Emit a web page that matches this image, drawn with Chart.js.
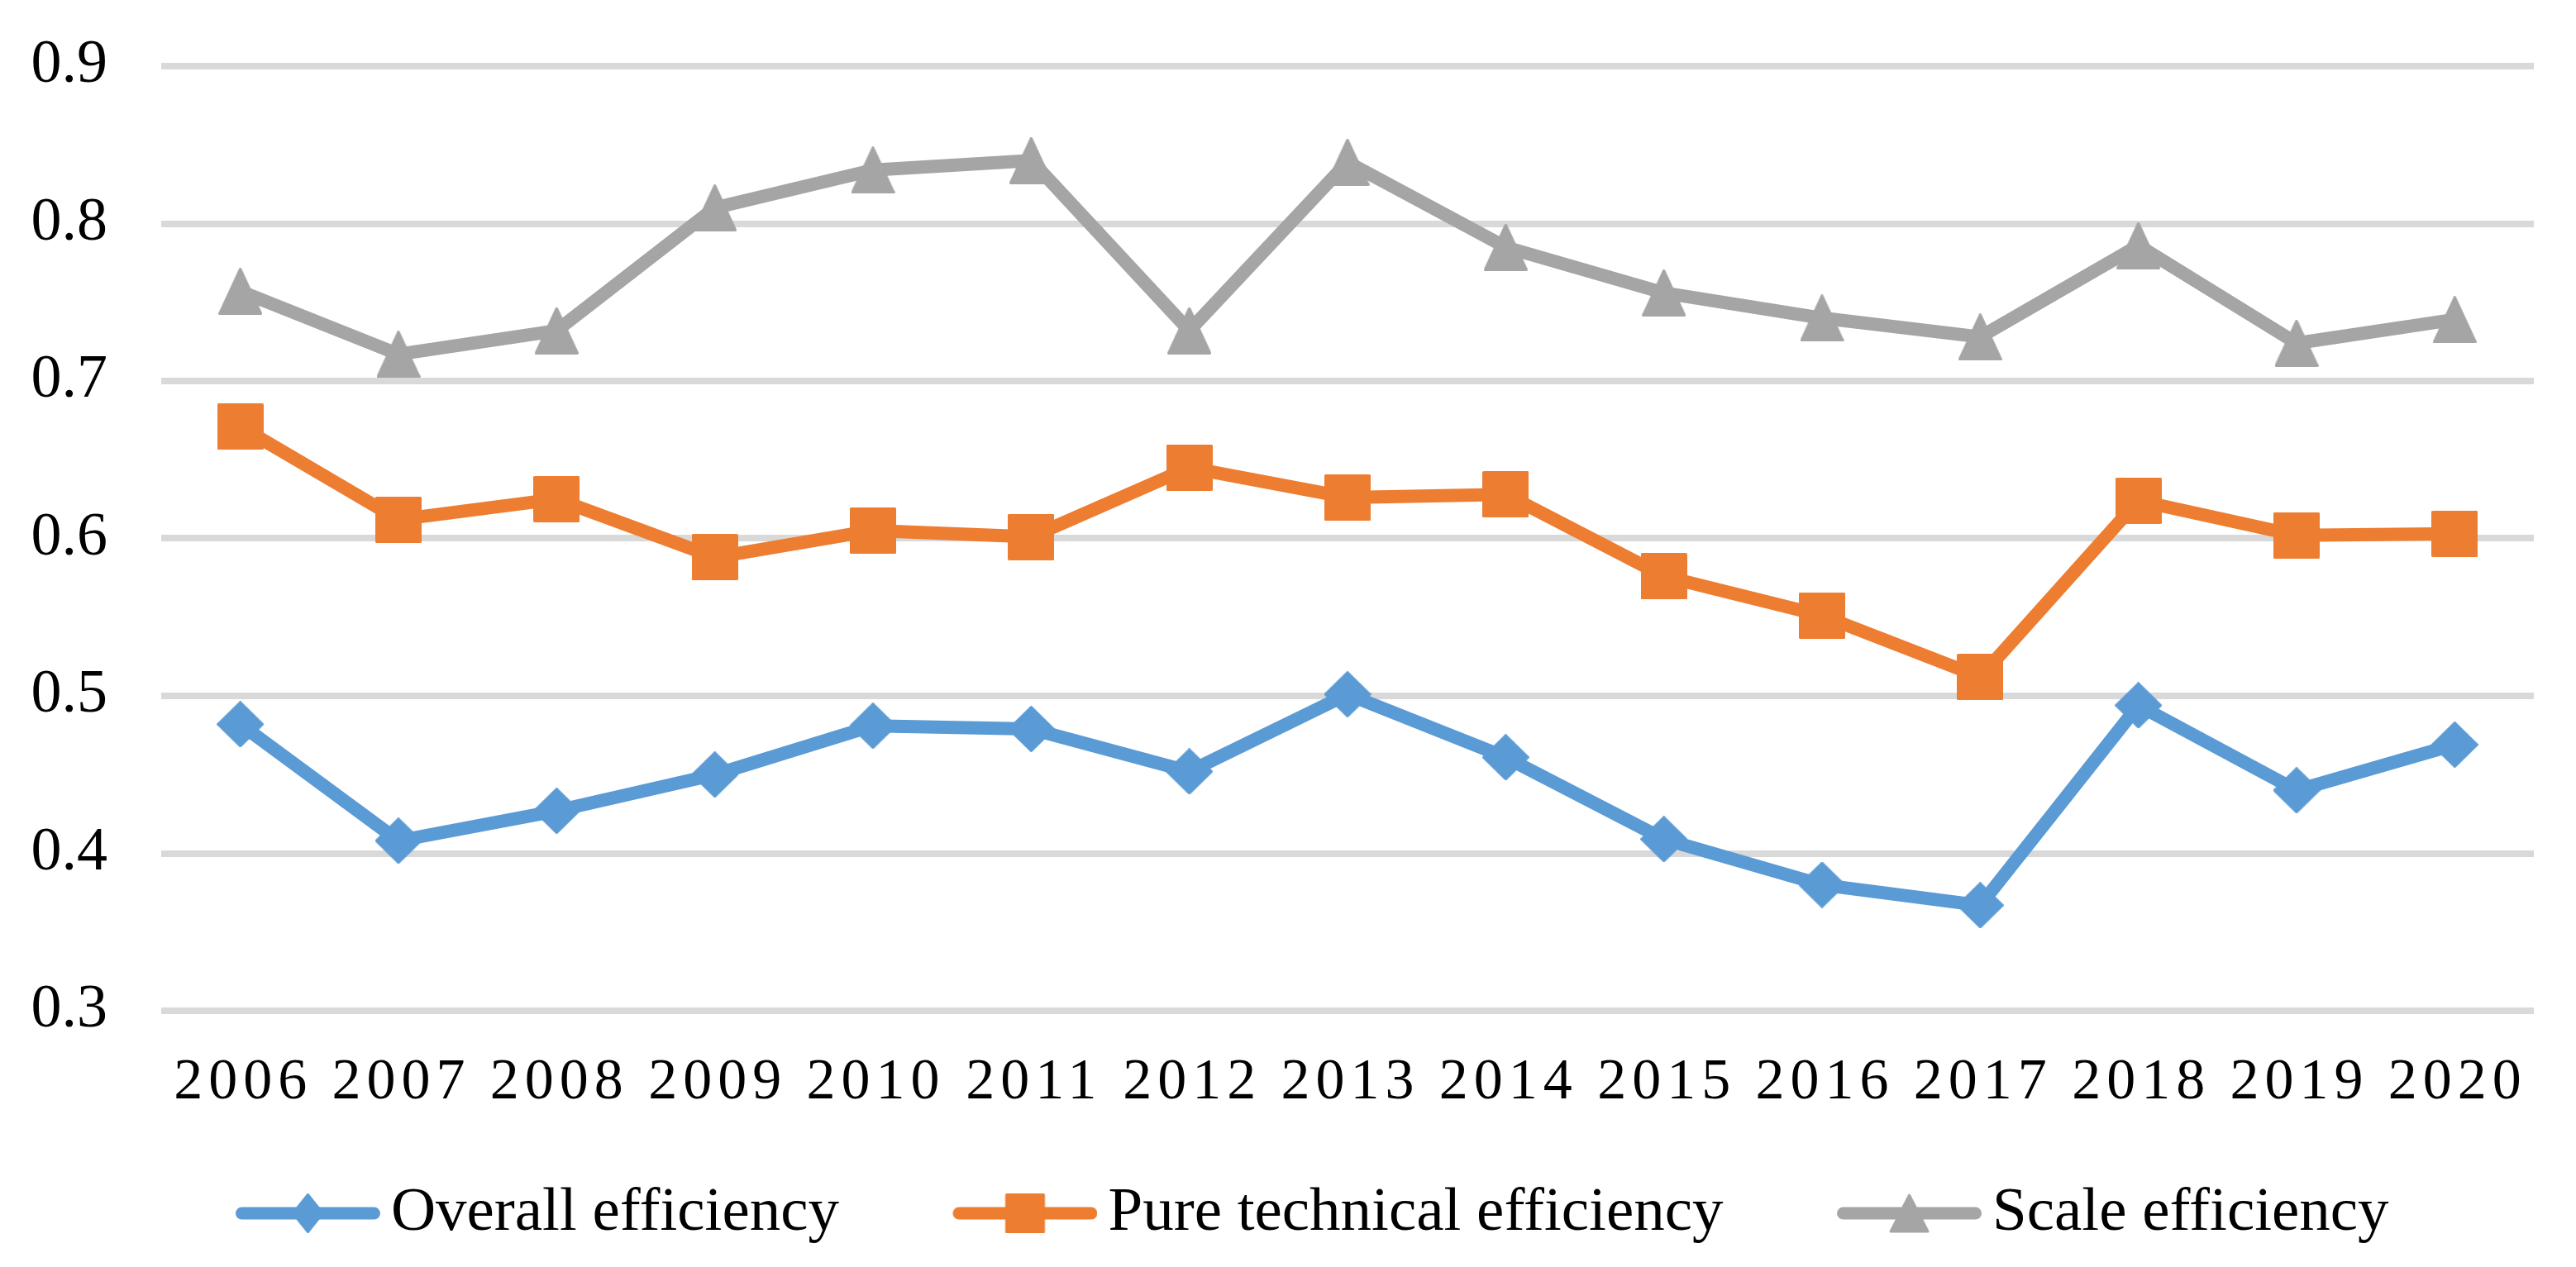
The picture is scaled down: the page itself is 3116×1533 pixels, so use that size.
<!DOCTYPE html>
<html>
<head>
<meta charset="utf-8">
<title>Efficiency 2006–2020</title>
<script src="https://cdn.jsdelivr.net/npm/chart.js@4.4.1/dist/chart.umd.min.js"></script>
<style>
  html, body { margin: 0; padding: 0; background: #fff; }
  #wrap { width: 3116px; height: 1533px; }
</style>
</head>
<body>
<div id="wrap"><canvas id="chart"></canvas></div>
<script>
// ── Data ────────────────────────────────────────────────────────────
const YEARS = ['2006','2007','2008','2009','2010','2011','2012','2013',
               '2014','2015','2016','2017','2018','2019','2020'];

const OVERALL   = [0.482,0.408,0.427,0.450,0.481,0.479,0.452,0.501,
                   0.461,0.409,0.380,0.367,0.494,0.440,0.469];
const PURE_TECH = [0.671,0.612,0.625,0.588,0.605,0.601,0.645,0.626,
                   0.628,0.576,0.551,0.512,0.624,0.602,0.603];
const SCALE     = [0.757,0.717,0.732,0.810,0.834,0.840,0.732,0.839,
                   0.785,0.756,0.740,0.728,0.786,0.724,0.739];

const SERIES_NAMES = ['Overall efficiency', 'Pure technical efficiency', 'Scale efficiency'];
const Y_TICKS = { min: 0.3, max: 0.9, step: 0.1 };

// ── Style ───────────────────────────────────────────────────────────
const COLORS = ['#5B9BD5', '#ED7D31', '#A5A5A5'];
const SHAPES = ['diamond', 'square', 'triangle'];
const FONT   = "'Liberation Serif', 'Times New Roman', serif";

function shapePath(ctx, shape, cx, cy, w, h) {
  ctx.beginPath();
  if (shape === 'diamond') {
    ctx.moveTo(cx, cy - h / 2);
    ctx.lineTo(cx + w / 2, cy);
    ctx.lineTo(cx, cy + h / 2);
    ctx.lineTo(cx - w / 2, cy);
  } else if (shape === 'square') {
    ctx.rect(cx - w / 2, cy - h / 2, w, h);
  } else {
    ctx.moveTo(cx, cy - h / 2);
    ctx.lineTo(cx + w / 2, cy + h / 2);
    ctx.lineTo(cx - w / 2, cy + h / 2);
  }
  ctx.closePath();
}

function drawMarker(ctx, shape, color, cx, cy, w, h) {
  ctx.fillStyle = color;
  ctx.strokeStyle = color;
  ctx.lineWidth = 3;
  ctx.lineJoin = 'round';
  shapePath(ctx, shape, cx, cy, w - 3, h - 3);
  ctx.fill();
  ctx.stroke();
}

// marker used on the plot
function pointIcon(shape, color, w, h) {
  const c = document.createElement('canvas');
  c.width = w; c.height = h;
  drawMarker(c.getContext('2d'), shape, color, w / 2, h / 2, w, h);
  return c;
}

// legend icon: line with marker, right part of the image
function legendIcon(shape, color, w, h) {
  const c = document.createElement('canvas');
  c.width = 309; c.height = 60;
  const ctx = c.getContext('2d');
  ctx.strokeStyle = color;
  ctx.lineWidth = 15;
  ctx.lineCap = 'round';
  ctx.beginPath();
  ctx.moveTo(141.5, 30);
  ctx.lineTo(301.5, 30);
  ctx.stroke();
  drawMarker(ctx, shape, color, 221.5, 30, w, h);
  return c;
}

const POINT_SIZES  = [[57, 56], [56, 56], [53, 57]];
const LEGEND_SIZES = [[39, 48], [48, 48], [48, 47]];

const pointIcons  = SHAPES.map((s, i) => pointIcon(s, COLORS[i], ...POINT_SIZES[i]));
const legendIcons = SHAPES.map((s, i) => legendIcon(s, COLORS[i], ...LEGEND_SIZES[i]));

// spaced-out digits on the category axis
const xLetterSpacing = {
  id: 'xLetterSpacing',
  beforeDraw(chart) {
    const sx = chart.scales.x;
    if (!sx || sx._spaced) return;
    const orig = sx.drawLabels;
    sx.drawLabels = function (area) {
      const ctx = this.ctx;
      ctx.save();
      ctx.letterSpacing = '7px';
      ctx.translate(3.5, 0);
      orig.call(this, area);
      ctx.restore();
    };
    sx._spaced = true;
  },
};

// ── Chart ───────────────────────────────────────────────────────────
const seriesValues = [OVERALL, PURE_TECH, SCALE];

new Chart(document.getElementById('chart'), {
  type: 'line',
  data: {
    labels: YEARS,
    datasets: seriesValues.map((vals, i) => ({
      label: SERIES_NAMES[i],
      data: vals,
      borderColor: COLORS[i],
      backgroundColor: COLORS[i],
      borderWidth: 16,
      borderCapStyle: 'round',
      borderJoinStyle: 'round',
      tension: 0,
      fill: false,
      pointStyle: pointIcons[i],
      pointRadius: 28,
    })),
  },
  options: {
    responsive: true,
    maintainAspectRatio: false,
    devicePixelRatio: 1,
    animation: false,
    events: [],
    layout: { padding: { left: 0, right: 51, top: 80, bottom: 17.5 } },
    scales: {
      x: {
        type: 'category',
        offset: true,
        grid: { display: false },
        border: { display: false },
        ticks: {
          color: '#000',
          font: { family: FONT, size: 70 },
          padding: 38,
          maxRotation: 0,
          autoSkip: false,
        },
        afterFit: s => { s.height = 179.5; },
      },
      y: {
        min: Y_TICKS.min,
        max: Y_TICKS.max,
        grid: { color: '#D9D9D9', lineWidth: 8, drawTicks: false },
        border: { display: false },
        ticks: {
          stepSize: Y_TICKS.step,
          color: '#000',
          font: { family: FONT, size: 74 },
          padding: 65,
          callback: v => v.toFixed(1),
        },
        afterFit: s => {
          s.width = 195;
          s.paddingTop = 0;
          s.paddingBottom = 0;
        },
      },
    },
    plugins: {
      tooltip: { enabled: false },
      legend: {
        position: 'bottom',
        labels: {
          usePointStyle: true,
          pointStyleWidth: 260,
          padding: 28,
          color: '#000',
          font: { family: FONT, size: 75 },
          generateLabels: chart => chart.data.datasets.map((ds, i) => ({
            text: ds.label,
            pointStyle: legendIcons[i],
            fillStyle: COLORS[i],
            strokeStyle: COLORS[i],
            lineWidth: 0,
            fontColor: '#000',
            hidden: false,
            datasetIndex: i,
          })),
        },
      },
    },
  },
  plugins: [xLetterSpacing],
});
</script>
</body>
</html>
